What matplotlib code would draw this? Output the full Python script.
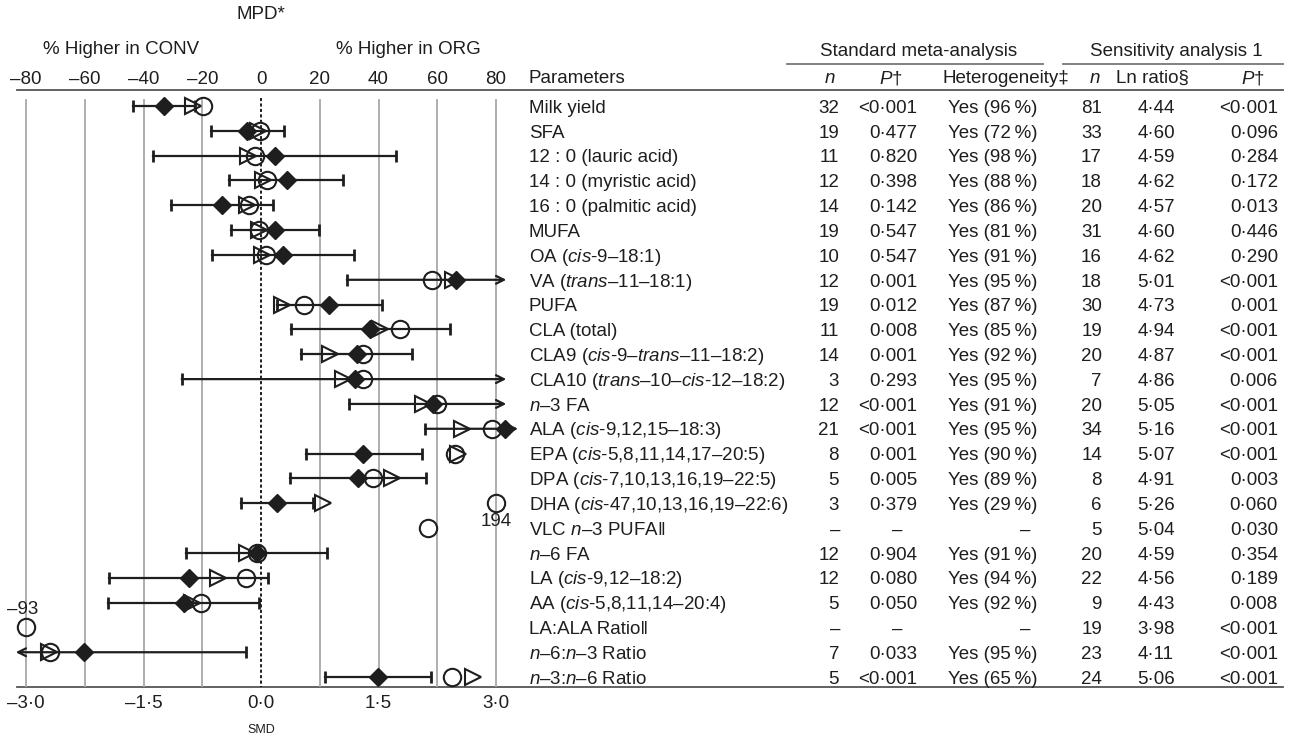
import numpy as np
import matplotlib.pyplot as plt
from matplotlib.transforms import blended_transform_factory as blend

plt.rcParams['font.family'] = ['Liberation Sans', 'DejaVu Sans']
plt.rcParams['mathtext.fontset'] = 'custom'
plt.rcParams['mathtext.rm'] = 'Liberation Sans'
plt.rcParams['mathtext.it'] = 'Liberation Sans:italic'
plt.rcParams['mathtext.fallback'] = 'stixsans'

# --- data (effects on the MPD % scale, SMD rows mapped with 3·0 SMD = 80 %) ---
params = ["Milk yield", "SFA", "12 : 0 (lauric acid)", "14 : 0 (myristic acid)",
          "16 : 0 (palmitic acid)", "MUFA", "OA ($cis$-9–18:1)", "VA ($trans$–11–18:1)",
          "PUFA", "CLA (total)", "CLA9 ($cis$-9–$trans$–11–18:2)",
          "CLA10 ($trans$–10–$cis$-12–18:2)", "$n$–3 FA", "ALA ($cis$-9,12,15–18:3)",
          "EPA ($cis$-5,8,11,14,17–20:5)", "DPA ($cis$-7,10,13,16,19–22:5)",
          "DHA ($cis$-47,10,13,16,19–22:6)", "VLC $n$–3 PUFA‖", "$n$–6 FA",
          "LA ($cis$-9,12–18:2)", "AA ($cis$-5,8,11,14–20:4)", "LA:ALA Ratio‖",
          "$n$–6:$n$–3 Ratio", "$n$–3:$n$–6 Ratio"]

nan = np.nan
diamond = [-33, -4.7, 4.8, 8.7, -13.4, 4.8, 7.6, 66.4, 23.3, 37.1, 32.6, 32, 58.4, 83,
           34.8, 33.1, 5.6, nan, -1.5, -24.4, -26.1, nan, -60.2, 39.9]
ci_lo = [-43.6, -17.1, -36.9, -10.9, -30.7, -10.3, -16.8, 29.2, 5.3, 10.1, 13.6, -27, 30,
         55.8, 15.2, 9.9, -6.8, nan, -25.6, -51.7, -52, nan, -120, 21.8]
ci_hi = [-22.4, 7.7, 46, 27.8, 4.2, 19.9, 31.7, 110, 41.3, 64.3, 51.3, 110, 110, 120,
         54.7, 56.2, 17.8, nan, 22.4, 2.5, -0.6, nan, -5.2, 57.9]
circle = [-19.7, -0.3, -2, 1.9, -4, -0.6, 1.6, 58.1, 14.6, 47.3, 34.6, 34.8, 59.8, 78.5,
          66, 38.2, 194, 57, -1.5, -5.1, -20.4, -93, -72, 64.9]
triangle = [-23.3, -1, -4.3, 0.8, -4.9, -0.6, 0.2, 65.5, 7, 40.5, 23.5, 28, 55.3, 68.3,
            67.2, 44.5, 21.2, nan, -4.9, -14.5, -23.6, nan, -72.3, 72.3]

n_std = ["32", "19", "11", "12", "14", "19", "10", "12", "19", "11", "14", "3", "12", "21",
         "8", "5", "3", "–", "12", "12", "5", "–", "7", "5"]
p_std = ["<0·001", "0·477", "0·820", "0·398", "0·142", "0·547", "0·547", "0·001", "0·012",
         "0·008", "0·001", "0·293", "<0·001", "<0·001", "0·001", "0·005", "0·379", "–",
         "0·904", "0·080", "0·050", "–", "0·033", "<0·001"]
het = [96, 72, 98, 88, 86, 81, 91, 95, 87, 85, 92, 95, 91, 95, 90, 89, 29, None, 91, 94,
       92, None, 95, 65]
n_sens = ["81", "33", "17", "18", "20", "31", "16", "18", "30", "19", "20", "7", "20", "34",
          "14", "8", "6", "5", "20", "22", "9", "19", "23", "24"]
ln_ratio = ["4·44", "4·60", "4·59", "4·62", "4·57", "4·60", "4·62", "5·01", "4·73", "4·94",
            "4·87", "4·86", "5·05", "5·16", "5·07", "4·91", "5·26", "5·04", "4·59", "4·56",
            "4·43", "3·98", "4·11", "5·06"]
p_sens = ["<0·001", "0·096", "0·284", "0·172", "0·013", "0·446", "0·290", "<0·001", "0·001",
          "<0·001", "<0·001", "0·006", "<0·001", "<0·001", "<0·001", "0·003", "0·060",
          "0·030", "0·354", "0·189", "0·008", "<0·001", "<0·001", "<0·001"]

mpd_ticks = [-80, -60, -40, -20, 0, 20, 40, 60, 80]
smd_ticks = [-3.0, -1.5, 0.0, 1.5, 3.0]

# --- figure: full-size overlay in pixels + forest axes ---
W, H = 1289, 737
fig = plt.figure(figsize=(W / 100, H / 100), dpi=100)
tab = fig.add_axes([0, 0, 1, 1])
tab.set_xlim(0, W)
tab.set_ylim(H, 0)
tab.axis("off")

ax = fig.add_axes([13 / W, 1 - 687 / H, (520 - 13) / W, (687 - 90) / H])
ax.set_xlim(-84.43, 88.17)
ax.set_ylim(23.40, -0.644)
ax.axis("off")

ink = "#1e1e1e"
fs = 13.5
nrow = len(params)
rows = np.arange(nrow)

# grid + zero line
for g in mpd_ticks:
    if g == 0:
        ax.plot([0, 0], [-0.33, 23.4], color=ink, lw=1.4, ls=(0, (1.6, 1.2)), zorder=1)
    else:
        ax.plot([g, g], [-0.25, 23.4], color="#a8a8a8", lw=1.3, zorder=0)

# confidence intervals
for i in rows:
    lo, hi = ci_lo[i], ci_hi[i]
    if np.isnan(lo):
        continue
    a = max(lo, -83.5)
    b = min(hi, max(83.5, diamond[i] + 4.5))
    if hi > 80 or lo < -80:
        start, tip = (a, b) if hi > 80 else (b, a)
        ax.annotate("", xy=(tip, i), xytext=(start, i),
                    arrowprops=dict(arrowstyle="->", color=ink, lw=1.6, shrinkA=0,
                                    shrinkB=0, mutation_scale=14), zorder=2)
        ax.plot([start], [i], marker="|", ms=8, mew=2, color=ink, zorder=2)
    else:
        ax.plot([lo, hi], [i, i], color=ink, lw=1.6, zorder=2)
        ax.plot([lo, hi], [i, i], ls="none", marker="|", ms=8, mew=2, color=ink, zorder=2)

circ = np.array(circle, dtype=float)
ax.plot(triangle, rows, ls="none", marker=">", ms=12, mfc="none", mec=ink, mew=1.5, zorder=3)
ax.plot(np.clip(circ, -80, 80), rows, ls="none", marker="o", ms=12.5, mfc="none", mec=ink,
        mew=1.5, zorder=4)
ax.plot(diamond, rows, ls="none", marker="D", ms=8.8, color=ink, zorder=5)

# values beyond the scale
for i in rows:
    if not np.isnan(circ[i]) and abs(circ[i]) > 80:
        lab = f"{circ[i]:.0f}".replace("-", "–")
        dy = 0.74 if circ[i] > 0 else -0.74
        ax.text(np.clip(circ[i], -81, 80), i + dy, lab, ha="center", va="center",
                fontsize=fs, color=ink, clip_on=False)

# top and bottom scales
tx = blend(ax.transData, tab.transData)
for v in mpd_ticks:
    tab.text(v, 83.5, f"{v}".replace("-", "–"), transform=tx, ha="center", fontsize=fs, color=ink)
for s in smd_ticks:
    lab = f"{s:.1f}".replace("-", "–").replace(".", "·")
    tab.text(s * 80 / 3, 708.5, lab, transform=tx, ha="center", fontsize=fs, color=ink)
tab.text(0, 733, "SMD", transform=tx, ha="center", fontsize=9, color=ink)
tab.text(0, 18.5, "MPD*", transform=tx, ha="center", fontsize=fs, color=ink)
tab.text(121, 54, "% Higher in CONV", ha="center", fontsize=fs, color=ink)
tab.text(408, 54, "% Higher in ORG", ha="center", fontsize=fs, color=ink)

# table rules
tab.plot([17, 1283], [89.5, 89.5], color="#555555", lw=1.3)
tab.plot([17, 1283], [687, 687], color="#555555", lw=1.3)
tab.plot([787, 1043], [64, 64], color="#777777", lw=1.3)
tab.plot([1063, 1283], [64, 64], color="#777777", lw=1.3)

# table headers
tab.text(919, 56, "Standard meta-analysis", ha="center", fontsize=fs, color=ink)
tab.text(1176, 56, "Sensitivity analysis 1", ha="center", fontsize=fs, color=ink)
hy = 83
tab.text(529, hy, "Parameters", ha="left", fontsize=fs, color=ink)
tab.text(830, hy, "$n$", ha="center", fontsize=fs, color=ink)
tab.text(891, hy, "$P$†", ha="center", fontsize=fs, color=ink)
tab.text(1006, hy, "Heterogeneity‡", ha="center", fontsize=fs, color=ink)
tab.text(1095, hy, "$n$", ha="center", fontsize=fs, color=ink)
tab.text(1152, hy, "Ln ratio§", ha="center", fontsize=fs, color=ink)
tab.text(1253, hy, "$P$†", ha="center", fontsize=fs, color=ink)

# table rows (y from the forest axes so they line up with the marks)
tr = blend(tab.transData, ax.transData)
het_txt = ["–" if h is None else f"Yes ({h}\u2009%)" for h in het]
cols = [(n_std, 839, "right", 835), (p_std, 917, "right", 897),
        (het_txt, 993, "center", 1025), (n_sens, 1102, "right", None),
        (ln_ratio, 1156, "center", None), (p_sens, 1278, "right", None)]
for i in rows:
    yb = i + 0.27
    tab.text(529, yb, params[i], transform=tr, ha="left", fontsize=fs, color=ink)
    for vals, x, ha, dash_x in cols:
        if vals[i] == "–" and dash_x is not None:
            tab.text(dash_x, yb, "–", transform=tr, ha="center", fontsize=fs, color=ink)
        else:
            tab.text(x, yb, vals[i], transform=tr, ha=ha, fontsize=fs, color=ink)

fig.savefig("out.png", dpi=100)
